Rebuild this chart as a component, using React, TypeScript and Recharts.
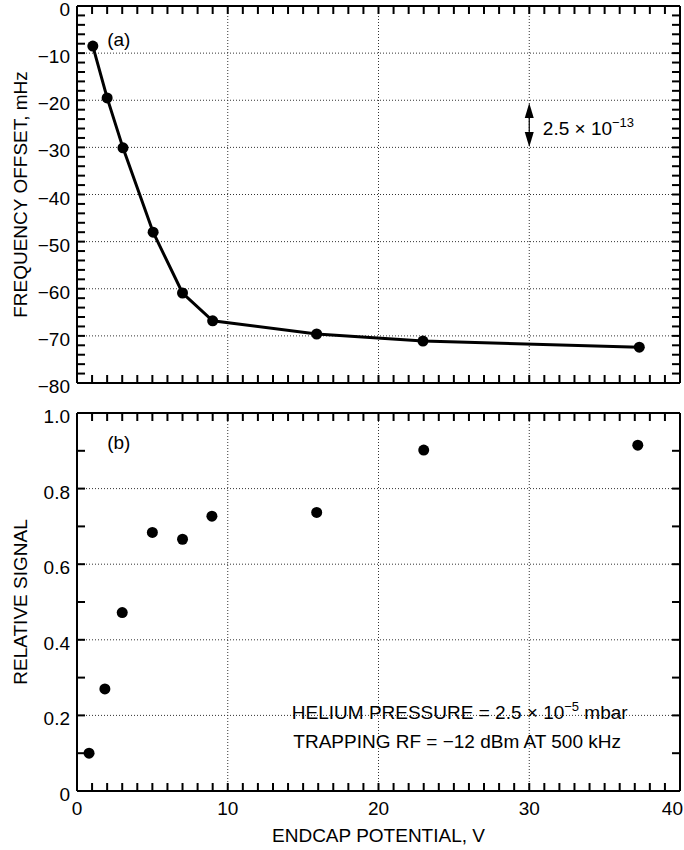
import React from 'react';
import {
  ComposedChart,
  ScatterChart,
  Line,
  Scatter,
  XAxis,
  YAxis,
  ReferenceLine,
  ReferenceDot,
  Label,
} from 'recharts';

const FONT = '"Liberation Sans", Arial, Helvetica, sans-serif';
const FS = 19;

// ---- Panel (a): frequency offset vs endcap potential ----
const offsetPotential = [1.05, 2, 3.05, 5.05, 7, 9, 15.9, 22.95, 37.3];
const offsetValues = [-8.5, -19.5, -30.1, -48.0, -60.9, -66.8, -69.6, -71.1, -72.4];

// ---- Panel (b): relative signal vs endcap potential ----
const signalPotential = [0.8, 1.85, 3, 5, 7, 8.95, 15.9, 23, 37.2];
const signalValues = [0.1, 0.27, 0.472, 0.684, 0.666, 0.727, 0.737, 0.902, 0.915];

// ---- ticks / labels / grid ----
const potentialDomain = [0, 40];
const potentialTicks = [
  0, 1, 2, 3, 4, 5, 6, 7, 8, 9, 10, 11, 12, 13, 14, 15, 16, 17, 18, 19, 20,
  21, 22, 23, 24, 25, 26, 27, 28, 29, 30, 31, 32, 33, 34, 35, 36, 37, 38, 39, 40,
];
const potentialLabels = [0, 10, 20, 30, 40];
const potentialGrid = [10, 20, 30];

const offsetDomain = [-80, 0];
const offsetTicks = [
  -80, -78, -76, -74, -72, -70, -68, -66, -64, -62, -60, -58, -56, -54, -52, -50,
  -48, -46, -44, -42, -40, -38, -36, -34, -32, -30, -28, -26, -24, -22, -20, -18,
  -16, -14, -12, -10, -8, -6, -4, -2, 0,
];
const offsetLabels = [-80, -70, -60, -50, -40, -30, -20, -10, 0];
const offsetGrid = [-70, -60, -50, -40, -30, -20, -10];

const signalDomain = [0, 1];
const signalTicks = [0, 0.1, 0.2, 0.3, 0.4, 0.5, 0.6, 0.7, 0.8, 0.9, 1.0];
const signalLabels = [0, 0.2, 0.4, 0.6, 0.8, 1.0];
const signalGrid = [0.2, 0.4, 0.6, 0.8];

// annotation values
const arrowX = 30;
const arrowTop = -20.6;
const arrowBottom = -29.9;

const offsetData = offsetPotential.map((p, i) => ({ potential: p, offset: offsetValues[i] }));
const signalData = signalPotential.map((p, i) => ({ potential: p, signal: signalValues[i] }));

const fmtOffset = (v: number) => (v === 0 ? '0' : '\u2212' + Math.abs(v));
const fmtSignal = (v: number) => (v === 0 ? '0' : v.toFixed(1));
const fmtPotential = (v: number) => String(v);

// layout
const W = 684;
const Y_AXIS_W = 77;
const RIGHT = 4;
const A_H = 400;
const A_TOP = 6;
const A_BOTTOM = 17;
const B_H = 450;
const B_TOP = 13;
const B_XAXIS_H = 59;
const PLOT_W = W - Y_AXIS_W - RIGHT;
const A_PLOT_H = A_H - A_TOP - A_BOTTOM;
const B_PLOT_H = B_H - B_TOP - B_XAXIS_H;
const TICK_PX = 8;
const TICK_W = 2;

function leftLabel(labels: number[], fmt: (v: number) => string) {
  return (props: any) => {
    const { x, y, payload } = props;
    const v = Number(payload.value);
    if (!labels.some((l) => Math.abs(l - v) < 1e-9)) return <g />;
    return (
      <text x={x - 7} y={y + 10} textAnchor="end" fontFamily={FONT} fontSize={FS} fill="#000">
        {fmt(v)}
      </text>
    );
  };
}

function bottomLabel(labels: number[], fmt: (v: number) => string, lastValue: number) {
  return (props: any) => {
    const { x, y, payload } = props;
    const v = Number(payload.value);
    if (!labels.some((l) => Math.abs(l - v) < 1e-9)) return <g />;
    const isLast = Math.abs(v - lastValue) < 1e-9;
    return (
      <text
        x={isLast ? x + 3 : x}
        y={y + 24}
        textAnchor={isLast ? 'end' : 'middle'}
        fontFamily={FONT}
        fontSize={FS}
        fill="#000"
      >
        {fmt(v)}
      </text>
    );
  };
}

const yTitle = (title: string) => (props: any) => {
  const vb = props.viewBox || {};
  const cx = (vb.x || 0) + 20;
  const cy = (vb.y || 0) + (vb.height || 0) / 2;
  return (
    <text
      x={cx}
      y={cy}
      transform={`rotate(-90, ${cx}, ${cy})`}
      textAnchor="middle"
      dominantBaseline="central"
      fontFamily={FONT}
      fontSize={FS}
      fill="#000"
    >
      {title}
    </text>
  );
};

const xTitle = (title: string) => (props: any) => {
  const vb = props.viewBox || {};
  const cx = (vb.x || 0) + (vb.width || 0) / 2;
  const cy = (vb.y || 0) + 51;
  return (
    <text x={cx} y={cy} textAnchor="middle" fontFamily={FONT} fontSize={FS} fill="#000">
      {title}
    </text>
  );
};

const ArrowShape = (p: any) => {
  const x = Number(p.x1);
  const top = Math.min(Number(p.y1), Number(p.y2));
  const bot = Math.max(Number(p.y1), Number(p.y2));
  const hl = 15;
  const hw = 4.5;
  return (
    <g>
      <polygon
        points={`${x - 0.6},${top + hl} ${x + 0.6},${top + hl} ${x + 0.6},${bot - hl} ${x - 0.6},${bot - hl}`}
        fill="#000"
      />
      <polygon points={`${x},${top} ${x - hw},${top + hl} ${x + hw},${top + hl}`} fill="#000" />
      <polygon points={`${x},${bot} ${x - hw},${bot - hl} ${x + hw},${bot - hl}`} fill="#000" />
    </g>
  );
};

const textShape = (content: React.ReactNode) => (p: any) => (
  <text x={p.cx} y={p.cy} fontFamily={FONT} fontSize={FS} fill="#000">
    {content}
  </text>
);

const gridStyle = { stroke: '#333', strokeWidth: 1, strokeDasharray: '1 2' };
const frameStyle = { stroke: '#000', strokeWidth: 2 };
const tickStyle = { stroke: '#000', strokeWidth: TICK_W };

function frameAndTicks(
  prefix: string,
  xTicks: number[],
  yTicks: number[],
  xDom: number[],
  yDom: number[],
  xGrid: number[],
  yGrid: number[],
  plotW: number,
  plotH: number
) {
  // inward tick length expressed in data units of each axis
  const dy = ((yDom[1] - yDom[0]) * TICK_PX) / plotH;
  const dx = ((xDom[1] - xDom[0]) * TICK_PX) / plotW;
  const out: React.ReactNode[] = [];
  xGrid.forEach((v) => out.push(<ReferenceLine key={prefix + 'gx' + v} x={v} {...gridStyle} />));
  yGrid.forEach((v) => out.push(<ReferenceLine key={prefix + 'gy' + v} y={v} {...gridStyle} />));
  xTicks.forEach((v) => {
    out.push(
      <ReferenceLine
        key={prefix + 'txb' + v}
        ifOverflow="visible"
        segment={[
          { x: v, y: yDom[0] },
          { x: v, y: yDom[0] + dy },
        ]}
        {...tickStyle}
      />
    );
    out.push(
      <ReferenceLine
        key={prefix + 'txt' + v}
        ifOverflow="visible"
        segment={[
          { x: v, y: yDom[1] - dy },
          { x: v, y: yDom[1] },
        ]}
        {...tickStyle}
      />
    );
  });
  yTicks.forEach((v) => {
    out.push(
      <ReferenceLine
        key={prefix + 'tyl' + v}
        ifOverflow="visible"
        segment={[
          { x: xDom[0], y: v },
          { x: xDom[0] + dx, y: v },
        ]}
        {...tickStyle}
      />
    );
    out.push(
      <ReferenceLine
        key={prefix + 'tyr' + v}
        ifOverflow="visible"
        segment={[
          { x: xDom[1] - dx, y: v },
          { x: xDom[1], y: v },
        ]}
        {...tickStyle}
      />
    );
  });
  out.push(<ReferenceLine key={prefix + 'f1'} x={xDom[0]} {...frameStyle} ifOverflow="visible" />);
  out.push(<ReferenceLine key={prefix + 'f2'} x={xDom[1]} {...frameStyle} ifOverflow="visible" />);
  out.push(<ReferenceLine key={prefix + 'f3'} y={yDom[0]} {...frameStyle} ifOverflow="visible" />);
  out.push(<ReferenceLine key={prefix + 'f4'} y={yDom[1]} {...frameStyle} ifOverflow="visible" />);
  return out;
}

export default function App() {
  return (
    <div style={{ position: 'absolute', left: 0, top: 0, width: W, height: 850, background: '#fff' }}>
      <ComposedChart
        width={W}
        height={A_H}
        data={offsetData}
        margin={{ top: A_TOP, right: RIGHT, bottom: A_BOTTOM, left: 0 }}
      >
        <XAxis
          dataKey="potential"
          type="number"
          domain={potentialDomain}
          ticks={potentialTicks}
          interval={0}
          height={0}
          tick={false}
          tickLine={false}
          axisLine={false}
          allowDataOverflow
        />
        <YAxis
          type="number"
          domain={offsetDomain}
          ticks={offsetTicks}
          interval={0}
          width={Y_AXIS_W}
          tickSize={0}
          tickMargin={0}
          tickLine={false}
          axisLine={false}
          tick={leftLabel(offsetLabels, fmtOffset)}
          allowDataOverflow
        >
          <Label content={yTitle('FREQUENCY OFFSET, mHz')} />
        </YAxis>
        {frameAndTicks(
          'a',
          potentialTicks,
          offsetTicks,
          potentialDomain,
          offsetDomain,
          potentialGrid,
          offsetGrid,
          PLOT_W,
          A_PLOT_H
        )}
        <Line
          type="linear"
          dataKey="offset"
          stroke="#000"
          strokeWidth={3}
          dot={{ r: 5.5, fill: '#000', stroke: '#000', strokeWidth: 0 }}
          activeDot={false}
          isAnimationActive={false}
        />
        <ReferenceLine
          segment={[
            { x: arrowX, y: arrowTop },
            { x: arrowX, y: arrowBottom },
          ]}
          shape={ArrowShape}
        />
        <ReferenceDot
          x={30.9}
          y={-27.4}
          r={0}
          ifOverflow="visible"
          shape={textShape(
            <>
              2.5 × 10
              <tspan dy={-8} fontSize={13}>
                {'\u221213'}
              </tspan>
            </>
          )}
        />
        <ReferenceDot x={2.0} y={-8.5} r={0} ifOverflow="visible" shape={textShape('(a)')} />
      </ComposedChart>

      <ScatterChart width={W} height={B_H} margin={{ top: B_TOP, right: RIGHT, bottom: 0, left: 0 }}>
        <XAxis
          dataKey="potential"
          type="number"
          domain={potentialDomain}
          ticks={potentialTicks}
          interval={0}
          height={B_XAXIS_H}
          tickSize={0}
          tickMargin={0}
          tickLine={false}
          axisLine={false}
          tick={bottomLabel(potentialLabels, fmtPotential, 40)}
          allowDataOverflow
        >
          <Label content={xTitle('ENDCAP POTENTIAL, V')} />
        </XAxis>
        <YAxis
          dataKey="signal"
          type="number"
          domain={signalDomain}
          ticks={signalTicks}
          interval={0}
          width={Y_AXIS_W}
          tickSize={0}
          tickMargin={0}
          tickLine={false}
          axisLine={false}
          tick={leftLabel(signalLabels, fmtSignal)}
          allowDataOverflow
        >
          <Label content={yTitle('RELATIVE SIGNAL')} />
        </YAxis>
        {frameAndTicks(
          'b',
          potentialTicks,
          signalTicks,
          potentialDomain,
          signalDomain,
          potentialGrid,
          signalGrid,
          PLOT_W,
          B_PLOT_H
        )}
        <Scatter
          data={signalData}
          dataKey="signal"
          fill="#000"
          shape={(p: any) => <circle cx={p.cx} cy={p.cy} r={5.5} fill="#000" />}
          isAnimationActive={false}
        />
        <ReferenceDot x={2.0} y={0.905} r={0} ifOverflow="visible" shape={textShape('(b)')} />
        <ReferenceDot
          x={14.25}
          y={0.191}
          r={0}
          ifOverflow="visible"
          shape={textShape(
            <>
              HELIUM PRESSURE = 2.5 × 10
              <tspan dy={-8} fontSize={13}>
                {'\u22125'}
              </tspan>
              <tspan dy={8}> mbar</tspan>
            </>
          )}
        />
        <ReferenceDot
          x={14.35}
          y={0.114}
          r={0}
          ifOverflow="visible"
          shape={textShape('TRAPPING RF = \u221212 dBm AT 500 kHz')}
        />
      </ScatterChart>
    </div>
  );
}
